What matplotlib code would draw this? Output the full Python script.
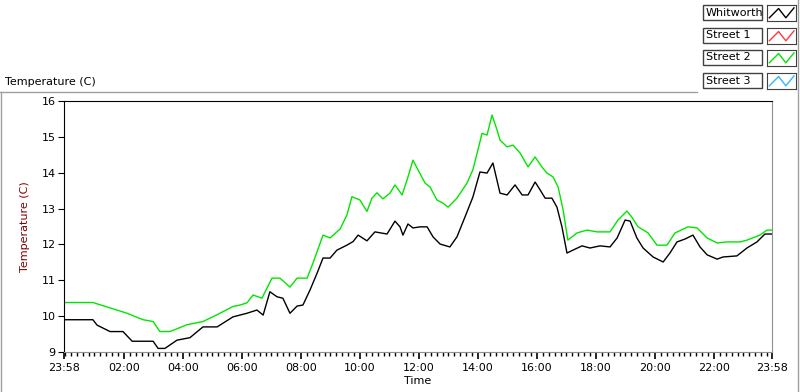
import matplotlib
matplotlib.use("Agg")
import matplotlib.pyplot as plt
from matplotlib.lines import Line2D
from matplotlib.patches import Rectangle
import numpy as np

# hours since 23:58, temperature (C)
whit_t = [0, 0.98, 1.12, 1.56, 2.0, 2.31, 3.02, 3.19, 3.42, 3.83, 4.27, 4.71, 5.19, 5.73, 6.2, 6.54,
          6.75, 6.98, 7.22, 7.42, 7.66, 7.9, 8.1, 8.34, 8.58, 8.78, 9.02, 9.25, 9.59, 9.8, 9.97, 10.27,
          10.54, 10.95, 11.22, 11.39, 11.49, 11.66, 11.83, 12.07, 12.31, 12.51, 12.75, 13.08, 13.32,
          13.59, 13.86, 14.1, 14.34, 14.54, 14.78, 15.02, 15.29, 15.53, 15.73, 15.97, 16.14, 16.31,
          16.54, 16.71, 16.88, 17.05, 17.25, 17.56, 17.83, 18.17, 18.51, 18.75, 19.02, 19.19, 19.42,
          19.63, 19.97, 20.31, 20.54, 20.78, 21.05, 21.32, 21.56, 21.8, 22.14, 22.34, 22.81, 23.15,
          23.49, 23.76, 24.0]
whit_v = [9.9, 9.9, 9.75, 9.57, 9.57, 9.3, 9.3, 9.1, 9.1, 9.33, 9.4, 9.7, 9.7, 9.98, 10.08, 10.17,
          10.03, 10.68, 10.54, 10.5, 10.08, 10.28, 10.31, 10.73, 11.2, 11.62, 11.62, 11.84, 11.98,
          12.08, 12.26, 12.1, 12.35, 12.29, 12.65, 12.49, 12.26, 12.57, 12.46, 12.49, 12.49, 12.21,
          12.01, 11.93, 12.21, 12.76, 13.32, 14.02, 13.99, 14.27, 13.43, 13.38, 13.66, 13.38, 13.38,
          13.74, 13.52, 13.29, 13.29, 13.04, 12.49, 11.76, 11.84, 11.96, 11.9, 11.96, 11.93, 12.18,
          12.68, 12.65, 12.18, 11.9, 11.65, 11.51, 11.76, 12.07, 12.15, 12.26, 11.93, 11.71, 11.59,
          11.65, 11.68, 11.9, 12.07, 12.29, 12.29]

st2_t = [0, 0.98, 1.56, 2.14, 2.68, 3.02, 3.25, 3.59, 4.17, 4.71, 5.19, 5.73, 5.97, 6.2, 6.41, 6.71,
         7.05, 7.32, 7.66, 7.9, 8.24, 8.44, 8.78, 9.02, 9.36, 9.59, 9.76, 10.03, 10.27, 10.44, 10.61,
         10.81, 11.05, 11.22, 11.46, 11.63, 11.83, 12.0, 12.24, 12.41, 12.64, 12.85, 13.02, 13.32,
         13.66, 13.86, 14.03, 14.17, 14.34, 14.51, 14.68, 14.78, 15.02, 15.22, 15.46, 15.73, 15.97,
         16.2, 16.37, 16.58, 16.75, 16.92, 17.08, 17.39, 17.73, 18.07, 18.51, 18.78, 19.08, 19.25,
         19.46, 19.8, 20.1, 20.44, 20.71, 21.15, 21.46, 21.8, 22.14, 22.47, 22.92, 23.15, 23.59,
         23.83, 24.0]
st2_v = [10.38, 10.38, 10.23, 10.08, 9.9, 9.85, 9.57, 9.57, 9.76, 9.85, 10.04, 10.27, 10.31, 10.37,
         10.59, 10.5, 11.06, 11.06, 10.81, 11.06, 11.06, 11.48, 12.26, 12.18, 12.43, 12.82, 13.33,
         13.24, 12.92, 13.29, 13.44, 13.27, 13.43, 13.66, 13.38, 13.8, 14.35, 14.08, 13.71, 13.6,
         13.24, 13.15, 13.04, 13.29, 13.71, 14.08, 14.63, 15.1, 15.05, 15.61, 15.19, 14.91, 14.72,
         14.77, 14.55, 14.16, 14.44, 14.16, 13.99, 13.88, 13.6, 12.96, 12.12, 12.32, 12.4, 12.35,
         12.35, 12.68, 12.93, 12.76, 12.49, 12.32, 11.98, 11.98, 12.32, 12.49, 12.46, 12.18, 12.04,
         12.07, 12.07, 12.12, 12.26, 12.4, 12.4]

names = ["Whitworth", "Street 1", "Street 2", "Street 3"]
colors = ["#000000", "#ff3b3b", "#00e600", "#33b5ff"]
tick_pos = [0, 2.033, 4.033, 6.033, 8.033, 10.033, 12.033, 14.033, 16.033, 18.033, 20.033, 22.033, 24]
tick_lab = ["23:58", "02:00", "04:00", "06:00", "08:00", "10:00", "12:00", "14:00", "16:00",
            "18:00", "20:00", "22:00", "23:58"]

W, H = 800, 392
def fx(px): return px / W
def fy(py): return 1 - py / H

plt.rcParams['font.family'] = ['DejaVu Sans']
fig = plt.figure(figsize=(8, 3.92), dpi=100)

# panel frame
fig.add_artist(Line2D([fx(0), fx(697)], [fy(92), fy(92)], color="#a0a0a0", lw=1))
fig.add_artist(Line2D([fx(0.5), fx(0.5)], [fy(92), fy(392)], color="#a0a0a0", lw=1))
fig.add_artist(Line2D([fx(798), fx(798)], [fy(0), fy(392)], color="#a0a0a0", lw=1))
fig.text(fx(5), fy(82), "Temperature (C)", fontsize=8, va="center", ha="left")

ax = fig.add_axes([fx(64), fy(352), fx(772) - fx(64), fy(101) - fy(352)])
ax.plot(whit_t, whit_v, color=colors[0], lw=1)
ax.plot(st2_t, st2_v, color=colors[2], lw=1)
ax.set_xlim(0, 24)
ax.set_ylim(9, 16)
ax.set_yticks(range(9, 17))
ax.set_xticks(tick_pos)
ax.set_xticklabels(tick_lab)
minor = [2.033 + 0.2 * k for k in range(-10, 111) if 0 <= 2.033 + 0.2 * k <= 24]
ax.set_xticks(minor, minor=True)
ax.tick_params(axis="both", labelsize=8, direction="out")
ax.tick_params(axis="x", which="major", length=5, width=1.2, pad=3)
ax.tick_params(axis="x", which="minor", length=3, width=1)
ax.tick_params(axis="y", length=4, pad=2)
for s in ["top", "left"]:
    ax.spines[s].set_color("black")
for s in ["right", "bottom"]:
    ax.spines[s].set_color("#909090")
ax.set_ylabel("Temperature (C)", fontsize=8, color="#800000", labelpad=8)
ax.set_xlabel("Time", fontsize=8, labelpad=2)

# legend
rows = [5, 28, 50, 73]
for name, col, top in zip(names, colors, rows):
    fig.add_artist(Rectangle((fx(703), fy(top + 15)), fx(762) - fx(703), fy(top) - fy(top + 15),
                             fill=False, ec="#404040", lw=1))
    fig.text(fx(706), fy(top + 7.5), name, fontsize=8, va="center", ha="left")
    la = fig.add_axes([fx(767), fy(top + 16), fx(796) - fx(767), fy(top) - fy(top + 16)])
    la.plot([0.08, 0.4, 0.65, 0.93], [0.2, 0.78, 0.2, 0.82], color=col, lw=1)
    la.set_xlim(0, 1)
    la.set_ylim(0, 1)
    la.set_xticks([])
    la.set_yticks([])
    for s in la.spines.values():
        s.set_color("#404040")

fig.savefig("out.png", dpi=100)
